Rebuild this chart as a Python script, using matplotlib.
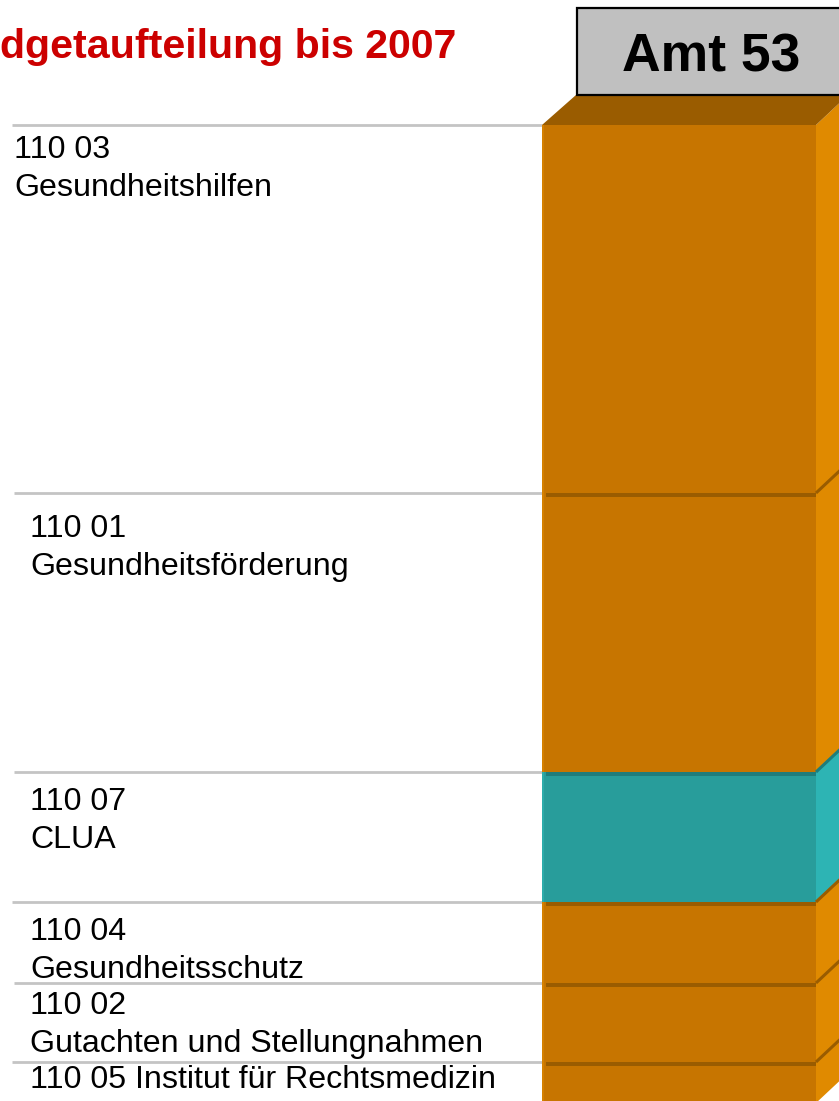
import matplotlib
matplotlib.use("Agg")
import matplotlib.pyplot as plt
from matplotlib.patches import Polygon, Rectangle

# ---- data (top to bottom of the stack) ----
codes = ["110 03", "110 01", "110 07", "110 04", "110 02", "110 05"]
names = ["Gesundheitshilfen", "Gesundheitsförderung", "CLUA",
         "Gesundheitsschutz", "Gutachten und Stellungnahmen",
         "Institut für Rechtsmedizin"]
budget = [9.2, 6.975, 3.25, 2.025, 1.975, 1.025]
is_clua = [False, False, True, False, False, False]
title_text = "dgetaufteilung bis 2007"
box_text = "Amt 53"

# ---- styles ----
ORANGE = dict(front="#C77500", side="#E08A00", dark="#9A5C00", edge="#D98300")
TEAL = dict(front="#289D9B", side="#2DB4B4", dark="#1F7D7B", edge="#2FB0AE")
GRAY = "#C4C4C4"
FONT = "Liberation Sans"
FS = 23.15

W, H = 839, 1101
PX = 40.0           # pixels per value unit
BOTTOM_PX = 1103    # pixel row of value 0

fig = plt.figure(figsize=(W / 100, H / 100), dpi=100)
ax = fig.add_axes([0, 0, 1, 1])
ax.set_xlim(0, W)
ax.set_ylim((BOTTOM_PX - H) / PX, BOTTOM_PX / PX)
ax.axis("off")

def py(p):
    """pixel row -> data y"""
    return (BOTTOM_PX - p) / PX

x0, x1 = 542, 816
ddx, ddy = 32, 30 / PX

# cumulative from top
total = sum(budget)
tops = []
acc = total
for v in budget:
    tops.append(acc)
    acc -= v
bottoms = [t - v for t, v in zip(tops, budget)]

# draw segments
for i, (t, b) in enumerate(zip(tops, bottoms)):
    c = TEAL if is_clua[i] else ORANGE
    ax.add_patch(Rectangle((x0, b), x1 - x0, t - b, facecolor=c["front"],
                           edgecolor="none", zorder=2))
    ax.add_patch(Polygon([(x1, b), (x1 + ddx, b + ddy), (x1 + ddx, t + ddy), (x1, t)],
                         closed=True, facecolor=c["side"], edgecolor="none", zorder=2))
    # light left edge
    ax.plot([x0 + 1, x0 + 1], [b, t], color=c["edge"], lw=1.2, zorder=3,
            solid_capstyle="butt")
    if i > 0:
        # separator strip at top of this segment
        ax.add_patch(Rectangle((x0 + 4, t - 4 / PX), x1 - x0 - 4, 4 / PX,
                               facecolor=c["dark"], edgecolor="none", zorder=3))
        ax.plot([x1, x1 + ddx], [t, t + ddy], color=c["dark"], lw=2.2, zorder=3,
                solid_capstyle="butt")

# top face
T = tops[0]
ax.add_patch(Polygon([(x0, T), (x0 + ddx + 2, T + ddy), (x1 + ddx, T + ddy), (x1, T)],
                     closed=True, facecolor=ORANGE["dark"], edgecolor="none", zorder=2))

# label guide lines
line_x0 = [12, 14, 14, 12, 14, 12]
for i, t in enumerate(tops):
    ax.plot([line_x0[i], x0], [t, t], color=GRAY, lw=2.0, zorder=1,
            solid_capstyle="butt")

# labels
label_x = [14, 30, 30, 30, 30, 30]
baseline_off = [33, 44, 38, 38, 31, 26]   # px below segment top
line_gap = 38
for i, t in enumerate(tops):
    top_px = BOTTOM_PX - t * PX
    bl = top_px + baseline_off[i]
    if i == len(tops) - 1:
        ax.text(label_x[i], py(bl), f"{codes[i]} {names[i]}", fontsize=FS,
                family=FONT, va="baseline", ha="left", color="black", zorder=4)
    else:
        ax.text(label_x[i], py(bl), codes[i], fontsize=FS, family=FONT,
                va="baseline", ha="left", color="black", zorder=4)
        ax.text(label_x[i], py(bl + line_gap), names[i], fontsize=FS,
                family=FONT, va="baseline", ha="left", color="black", zorder=4)

# title
ax.text(0.5, py(58), title_text, fontsize=29.6, family=FONT, weight="bold",
        color="#CC0000", ha="left", va="baseline", zorder=4)

# Amt box
ax.add_patch(Rectangle((577, py(95)), 300, (95 - 8) / PX, facecolor="#C0C0C0",
                       edgecolor="black", lw=1.6, zorder=5))
ax.text(711, py(72), box_text, fontsize=38.5, family=FONT, weight="bold",
        color="black", ha="center", va="baseline", zorder=6)

fig.savefig("out.png", dpi=100)
